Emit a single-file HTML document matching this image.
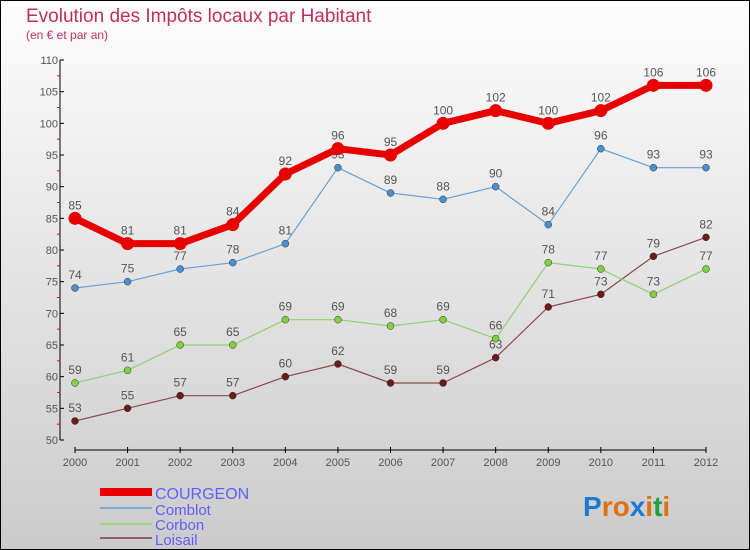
<!DOCTYPE html>
<html><head><meta charset="utf-8"><style>
body{margin:0;width:750px;height:550px;overflow:hidden}
svg{display:block;font-family:"Liberation Sans",sans-serif}
</style></head><body>
<svg id="c" width="750" height="550">
<defs><linearGradient id="bg" x1="0" y1="0" x2="0" y2="1"><stop offset="0" stop-color="#fdfdfd"/><stop offset="1" stop-color="#cbcbcb"/></linearGradient></defs>
<rect x="0.5" y="0.5" width="749" height="549" fill="url(#bg)" stroke="#000"/>
<text x="26" y="22" font-size="19" fill="#c0305a">Evolution des Impôts locaux par Habitant</text>
<text x="26" y="39" font-size="12" fill="#c0305a">(en € et par an)</text>
<g id="axes"></g><g id="series"></g>
<g>
<rect x="100" y="488" width="52" height="8" fill="#e00"/>
<text x="155" y="499" font-size="16" fill="#6060ff">COURGEON</text>
<rect x="100" y="507" width="52" height="2" fill="#7aaad0"/>
<text x="155" y="515" font-size="15" fill="#6060ff">Comblot</text>
<rect x="100" y="523" width="52" height="2" fill="#a0d880"/>
<text x="155" y="530" font-size="15" fill="#6060ff">Corbon</text>
<rect x="100" y="537" width="52" height="2" fill="#906060"/>
<text x="155" y="545" font-size="15" fill="#6060ff">Loisail</text>
</g>
<text x="583" y="516" font-size="28" font-weight="bold"><tspan fill="#1a7ad0">P</tspan><tspan fill="#e07010">r</tspan><tspan fill="#e07010">o</tspan><tspan fill="#1a7ad0">x</tspan><tspan fill="#e07010">i</tspan><tspan fill="#20a040">t</tspan><tspan fill="#e07010">i</tspan></text>
</svg>
<script>
const years=[2000,2001,2002,2003,2004,2005,2006,2007,2008,2009,2010,2011,2012];
const courgeon=[85,81,81,84,92,96,95,100,102,100,102,106,106];
const comblot=[74,75,77,78,81,93,89,88,90,84,96,93,93];
const corbon=[59,61,65,65,69,69,68,69,66,78,77,73,77];
const loisail=[53,55,57,57,60,62,59,59,63,71,73,79,82];
const yTicks=[50,55,60,65,70,75,80,85,90,95,100,105,110];
const NS="http://www.w3.org/2000/svg";
const X=i=>75+i*(706-75)/(years.length-1);
const Y=v=>440-(v-50)*(380/60);
function mk(t,a,p){const e=document.createElementNS(NS,t);for(const k in a)e.setAttribute(k,a[k]);p.appendChild(e);return e;}
const ax=document.getElementById('axes');
let l=mk('line',{x1:60,y1:Y(110),x2:60,y2:Y(50),stroke:'#000','stroke-width':1},ax);


l=mk('line',{x1:75,y1:450,x2:706,y2:450,stroke:'#000','stroke-width':1},ax);


yTicks.forEach(v=>{
 mk('line',{x1:60,y1:Y(v),x2:64,y2:Y(v),stroke:'#000'},ax);
 if(v<110)mk('line',{x1:57,y1:Y(v+2.5),x2:60,y2:Y(v+2.5),stroke:'#f00'},ax);
 const t=mk('text',{x:58,y:Y(v)+4,'font-size':11,fill:'#555','text-anchor':'end'},ax);t.textContent=v;
 
 
});
years.forEach((y,i)=>{
 mk('line',{x1:X(i),y1:447,x2:X(i),y2:453,stroke:'#000'},ax);
 const t=mk('text',{x:X(i),y:466,'font-size':11,fill:'#555','text-anchor':'middle'},ax);t.textContent=y;
 
 
});
const sg=document.getElementById('series');
function draw(name,data,color,w,r,dot,labCol){
 const g=mk('g',{},sg);
 
 
 const p=mk('polyline',{points:data.map((v,i)=>X(i)+','+Y(v)).join(' '),fill:'none',stroke:color,'stroke-width':w,'stroke-linejoin':'round'},g);
 
 
 data.forEach((v,i)=>{
  const c=mk('circle',{cx:X(i),cy:Y(v),r:r,fill:dot,stroke:'#333','stroke-width':r>5?0:0.5},g);
  
  
  const t=mk('text',{x:X(i),y:Y(v)-9,'font-size':12,fill:'#555','text-anchor':'middle'},g);t.textContent=v;
  
  
 });
}
draw('loisail',loisail,'#8a4a4a',1.2,3.5,'#6a1a1a');
draw('corbon',corbon,'#90d070',1.2,3.5,'#80d040');
draw('comblot',comblot,'#6aa0d0',1.2,3.5,'#4a90d0');
draw('courgeon',courgeon,'#e80000',7,6.5,'#e80000');
</script>
</body></html>
